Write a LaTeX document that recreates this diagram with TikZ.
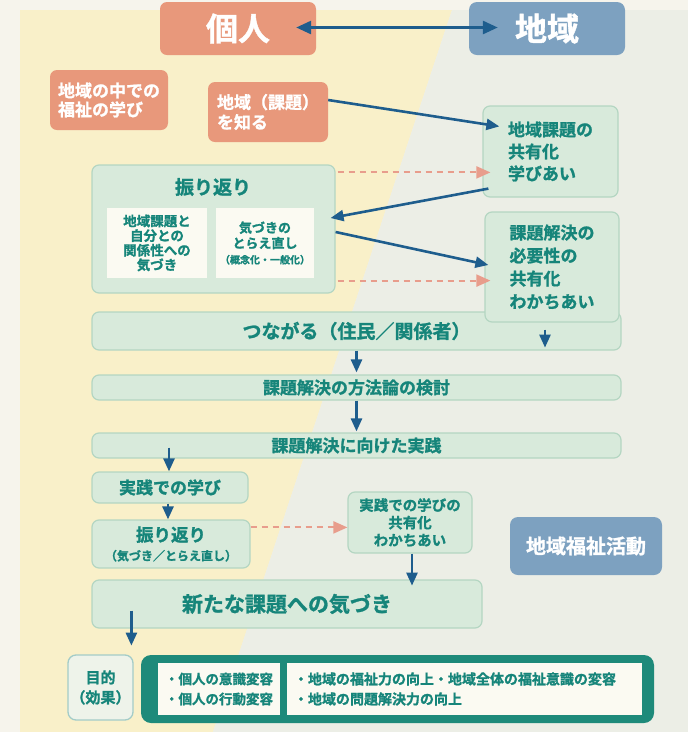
\documentclass[tikz,border=0pt]{standalone}
\usepackage{fontspec}
\setmainfont{Noto Sans CJK JP}[BoldFont={Noto Sans CJK JP Bold}, BoldFeatures={FakeBold=1.2}]
\usetikzlibrary{arrows.meta,calc}
\definecolor{outerbg}{HTML}{F6F4EC}
\definecolor{yellowbg}{HTML}{F9F0C9}
\definecolor{graybg}{HTML}{ECEEE6}
\definecolor{salmon}{HTML}{E8987B}
\definecolor{steel}{HTML}{7DA1C0}
\definecolor{arrblue}{HTML}{1E5D8D}
\definecolor{gfill}{HTML}{D8EADB}
\definecolor{gborder}{HTML}{B4D6C2}
\definecolor{tealtext}{HTML}{16857A}
\definecolor{pinkdash}{HTML}{E89D8C}
\definecolor{tealbox}{HTML}{1E8A7A}
\definecolor{wfill}{HTML}{FBFAF2}
\definecolor{mfill}{HTML}{EEF3EA}
\definecolor{mborder}{HTML}{A3CCC8}
\tikzset{
  gbox/.style={draw=gborder, fill=gfill, line width=1.2pt, rounded corners=7pt, inner sep=0pt, text=tealtext},
  sbox/.style={fill=salmon, rounded corners=7pt, inner sep=0pt, text=white},
  bbox/.style={fill=steel, rounded corners=8pt, inner sep=0pt, text=white},
  wbox/.style={fill=wfill, inner sep=0pt, text=tealtext},
  arr/.style={draw=arrblue, line width=2.6pt, -{Triangle[length=13pt,width=11pt]}},
  darr/.style={draw=pinkdash, line width=2pt, dash pattern=on 6pt off 5pt, -{Triangle[length=14pt,width=12pt,fill=pinkdash]}},
  fs/.style={font=\fontsize{#1}{#1}\selectfont\bfseries},
}
\begin{document}
\begin{tikzpicture}[x=1pt,y=-1pt]
\useasboundingbox (0,0) rectangle (688,732);
% background
\fill[outerbg] (0,0) rectangle (688,732);
\fill[yellowbg] (20,10) -- (452,10) -- (213,732) -- (20,732) -- cycle;
\fill[graybg] (452,10) -- (688,10) -- (688,732) -- (213,732) -- cycle;

% header
\node[sbox, minimum width=156, minimum height=53, font=\fontsize{32}{32}\selectfont\bfseries] (kojin) at (238,28.5) {個人};
\node[bbox, minimum width=156, minimum height=53, font=\fontsize{32}{32}\selectfont\bfseries] (chiiki) at (547,28.5) {地域};
\draw[draw=arrblue, line width=2.8pt, {Triangle[length=15pt,width=13pt]}-{Triangle[length=15pt,width=13pt]}] ([xshift=-20pt,yshift=1pt]kojin.east) -- ([xshift=29pt,yshift=1pt]chiiki.west);

% salmon boxes
\node[sbox, minimum width=118, minimum height=60, align=left, font=\fontsize{17}{19}\selectfont\bfseries] (manabi) at (109,100) {地域の中での\\福祉の学び};
\node[sbox, minimum width=120, minimum height=60, align=left, font=\fontsize{17}{20}\selectfont\bfseries] (shiru) at (268,112) {地域（課題）\\を知る};

% right green boxes
\node[gbox, minimum width=135, minimum height=91, align=left, font=\fontsize{17}{22}\selectfont\bfseries] (kyoyu) at (550.5,151.5) {地域課題の\\共有化\\学びあい};

% furikaeri big box
\node[gbox, minimum width=243, minimum height=128] (furi) at (213.5,229) {};
\node[text=tealtext, fs=19, inner sep=0pt] (furititle) at (213,187) {振り返り};
\node[wbox, minimum width=100, minimum height=70, align=center, font=\fontsize{13.5}{14.6}\selectfont\bfseries] (inl) at (157,243) {地域課題と\\自分との\\関係性への\\気づき};
\node[wbox, minimum width=98, minimum height=70, align=center, font=\fontsize{13}{15.5}\selectfont\bfseries] (inr) at (265,243) {気づきの\\とらえ直し\\{\fontsize{10}{12}\selectfont （概念化・一般化）}};

% bars
\node[gbox, minimum width=529, minimum height=38, fs=19] (tsunagaru) at (356.5,331) {つながる（住民／関係者）};
\node[gbox, minimum width=134, minimum height=110, align=left, font=\fontsize{17}{23}\selectfont\bfseries] (kaiketsu) at (552,267) {課題解決の\\必要性の\\共有化\\わかちあい};
\node[gbox, minimum width=529, minimum height=25, fs=17] (hoho) at (356.5,387.5) {課題解決の方法論の検討};
\node[gbox, minimum width=529, minimum height=25, fs=17] (jissen) at (356.5,445.5) {課題解決に向けた実践};

% lower boxes
\node[gbox, minimum width=156, minimum height=31, fs=17] (manabi2) at (170,487.5) {実践での学び};
\node[gbox, minimum width=158, minimum height=48, align=center, font=\fontsize{17.5}{18}\selectfont\bfseries] (furi2) at (171,544) {振り返り\\[1pt]{\fontsize{12}{13}\selectfont （気づき／とらえ直し）}};
\node[gbox, minimum width=124, minimum height=61, align=center, font=\fontsize{14.5}{17.5}\selectfont\bfseries] (kyoyu3) at (410,522.5) {実践での学びの\\共有化\\わかちあい};
\node[gbox, minimum width=390, minimum height=48, fs=21] (aratana) at (287,604) {新たな課題への気づき};
\node[bbox, minimum width=152, minimum height=58, fs=20] (katsudo) at (586,546) {地域福祉活動};

% bottom
\node[draw=mborder, fill=mfill, line width=1.3pt, rounded corners=8pt, minimum width=65, minimum height=65, inner sep=0pt, align=center, text=tealtext, font=\fontsize{15}{20}\selectfont\bfseries] (mokuteki) at (100.5,687.5) {目的\\（効果）};
\node[fill=tealbox, rounded corners=10pt, minimum width=513, minimum height=68] (teal) at (397.5,689) {};
\node[wbox, minimum width=122, minimum height=52, align=left, font=\fontsize{13.5}{20}\selectfont\bfseries] (w1) at (219,689) {・個人の意識変容\\・個人の行動変容};
\node[wbox, minimum width=355, minimum height=52, align=left, font=\fontsize{14}{20}\selectfont\bfseries, text width=340, inner xsep=6pt] (w2) at (464,689) {・地域の福祉力の向上・地域全体の福祉意識の変容\\・地域の問題解決力の向上};

% arrows
\draw[arr] ([yshift=12pt]shiru.east) -- ($(kyoyu.north west)+(17,21)$);
\draw[arr] ($(kyoyu.south west)+(6,-9)$) -- ($(furi.east)+(-5,-11)$);
\draw[arr] ($(furi.east)+(0,3)$) -- ($(kaiketsu.west)+(4,-2)$);
\draw[darr] ($(furi.north east)+(2,8)$) -- ($(kyoyu.west |- furi.north east)+(8,8)$);
\draw[darr] ($(furi.south east)+(2,-13)$) -- ($(kaiketsu.west |- furi.south east)+(6,-13)$);
\draw[arr] ($(kaiketsu.south)+(-7,7)$) -- ($(kaiketsu.south)+(-7,25)$);
\draw[arr] (tsunagaru.south) -- ([yshift=2pt]hoho.north);
\draw[arr] (hoho.south) -- ([yshift=1pt]jissen.north);
\draw[arr] ($(jissen.south -| manabi2.north)+(-1,-11)$) -- ([xshift=-1pt]manabi2.north);
\draw[arr] ([xshift=-2pt]manabi2.south) -- ([xshift=-3pt]furi2.north);
\draw[darr] ($(furi2.north east)+(0,8)$) -- ($(kyoyu3.west |- furi2.north east)+(0,8)$);
\draw[arr] ([xshift=2pt]kyoyu3.south) -- ($(kyoyu3.south)+(2,32)$);
\draw[arr] ($(aratana.south west)+(40,-18)$) -- ($(aratana.south west)+(40,17)$);
\end{tikzpicture}
\end{document}
